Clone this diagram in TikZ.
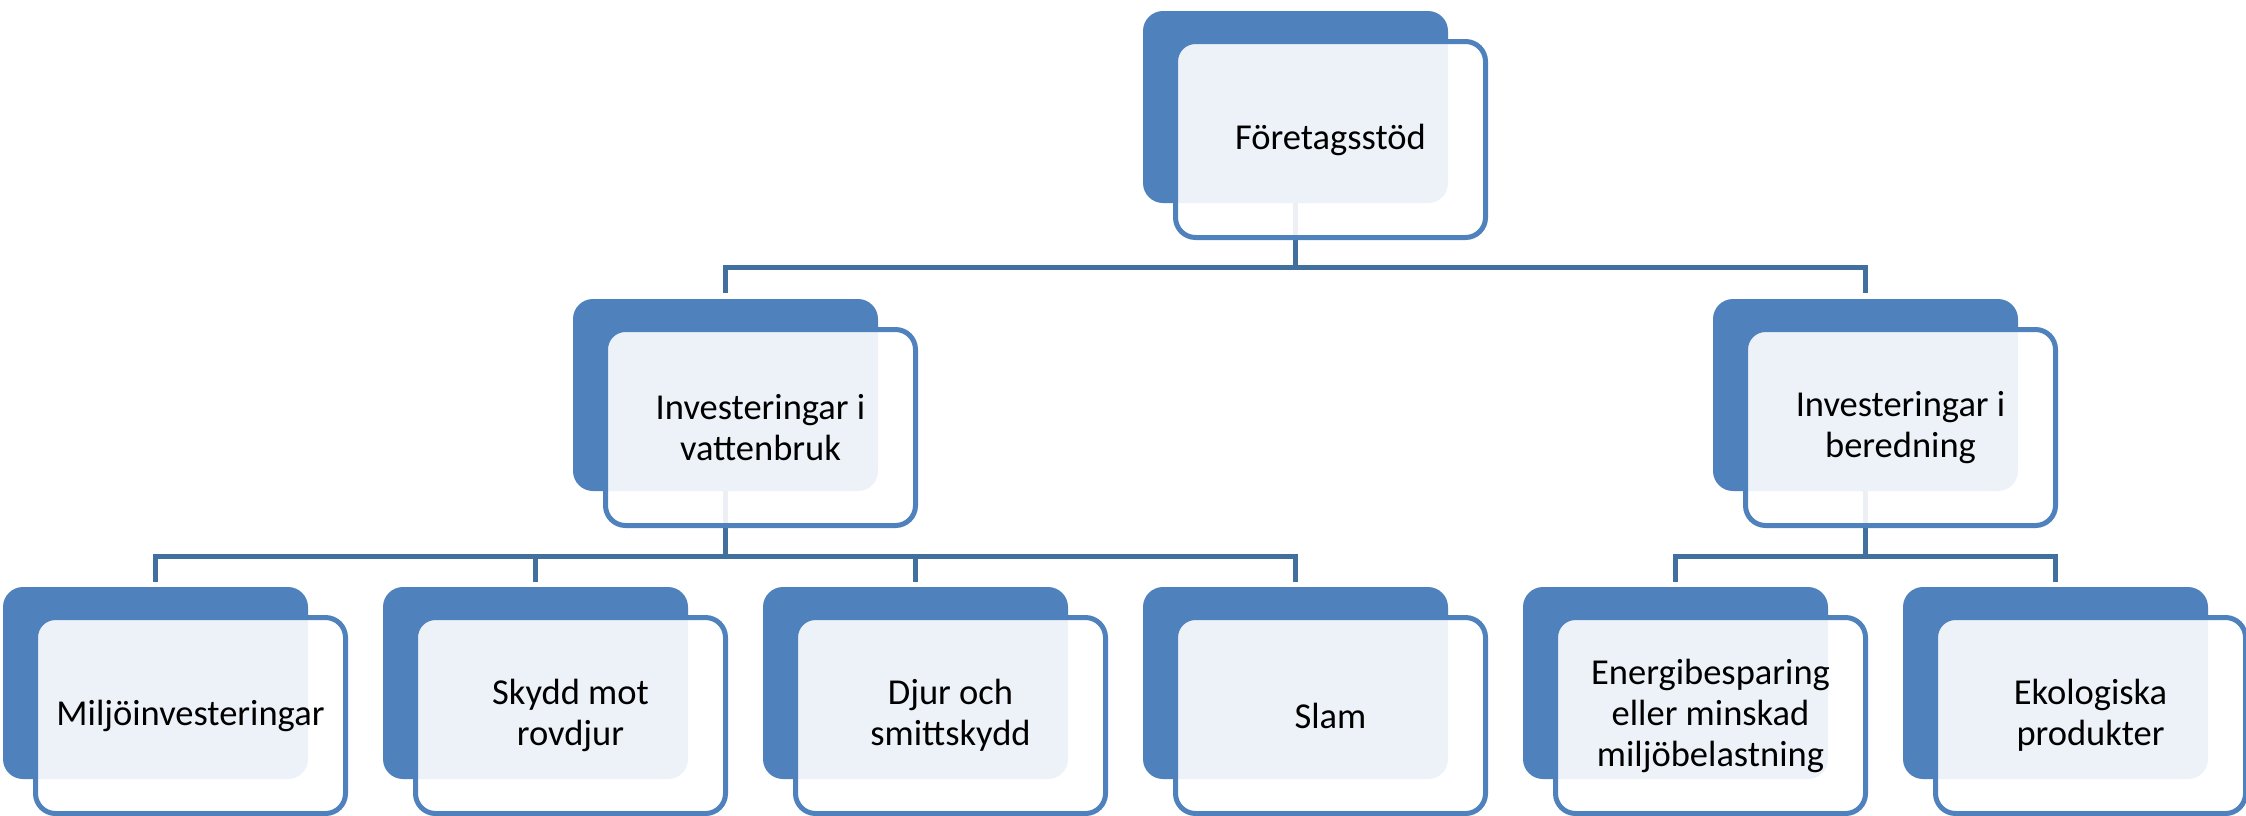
\documentclass[tikz,border=0pt]{standalone}
\usepackage{fontspec}
\setmainfont{Carlito}
\usetikzlibrary{calc}
\definecolor{accent}{HTML}{4F81BD}
\definecolor{connc}{HTML}{41709F}
\pgfdeclarelayer{back}
\pgfdeclarelayer{mid}
\pgfsetlayers{back,mid,main}
\tikzset{
  darkbox/.style={fill=accent, draw=none, rounded corners=20pt, inner sep=0pt, outer sep=0pt,
    minimum width=305pt, minimum height=192pt},
  frontbox/.style={draw=accent, line width=5pt, fill=white, fill opacity=0.9, text opacity=1,
    rounded corners=20pt, inner sep=0pt, outer sep=0pt, minimum width=310pt, minimum height=196pt,
    align=center, font=\fontsize{36.5}{41}\selectfont},
  conn/.style={draw=connc, line width=5pt, line join=miter}
}
\newcommand\orgbox[4]{%
  \begin{pgfonlayer}{back}\node[darkbox, anchor=north west] (#1-d) at (#2,#3) {};\end{pgfonlayer}
  \node[frontbox, anchor=north west] (#1) at ($(#2,#3)+(32.5,30.5)$) {#4};
}
\begin{document}
\begin{tikzpicture}[x=1pt,y=-1pt]
\useasboundingbox (0,0) rectangle (2246,815);
\orgbox{top}{1143}{11}{Företagsstöd}
\orgbox{m1}{573}{299}{Investeringar i\\vattenbruk}
\orgbox{m2}{1713}{299}{Investeringar i\\beredning}
\orgbox{b1}{3}{587}{Miljöinvesteringar}
\orgbox{b2}{383}{587}{Skydd mot\\rovdjur}
\orgbox{b3}{763}{587}{Djur och\\smittskydd}
\orgbox{b4}{1143}{587}{Slam}
\orgbox{b5}{1523}{587}{Energibesparing\\eller minskad\\miljöbelastning}
\orgbox{b6}{1903}{587}{Ekologiska\\produkter}
\begin{pgfonlayer}{mid}
\draw[conn] (top-d.south) -- ($(top-d.south)+(0,64)$) -| ($(m1-d.north)+(0,-6)$);
\draw[conn] (top-d.south) -- ($(top-d.south)+(0,64)$) -| ($(m2-d.north)+(0,-6)$);
\foreach \c in {b1,b2,b3,b4}{
  \draw[conn] (m1-d.south) -- ($(m1-d.south)+(0,65)$) -| ($(\c-d.north)+(0,-5)$);
}
\foreach \c in {b5,b6}{
  \draw[conn] (m2-d.south) -- ($(m2-d.south)+(0,65)$) -| ($(\c-d.north)+(0,-5)$);
}
\end{pgfonlayer}
\end{tikzpicture}
\end{document}
